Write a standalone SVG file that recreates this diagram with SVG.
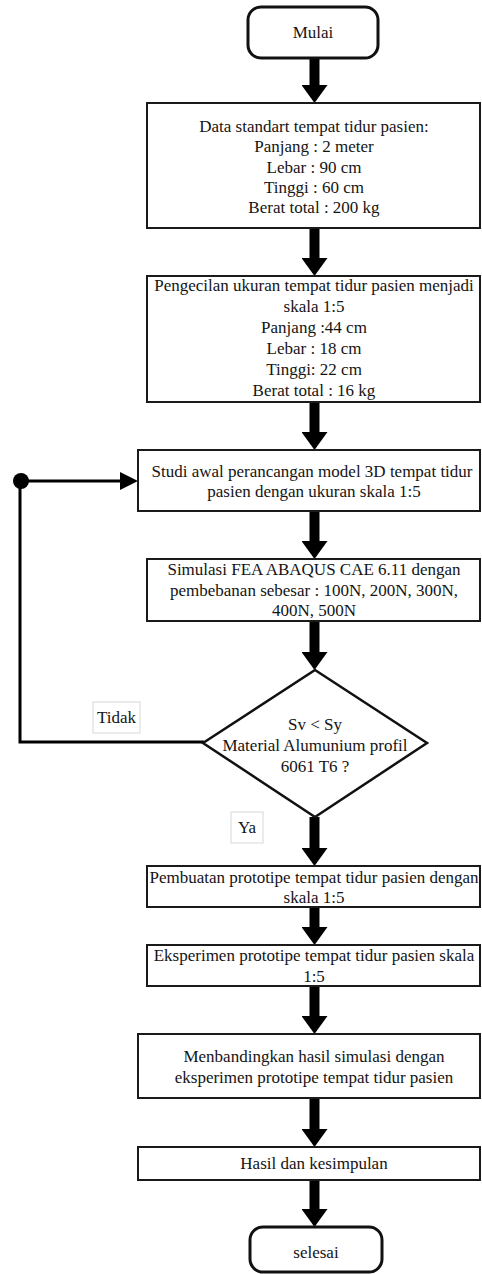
<svg xmlns="http://www.w3.org/2000/svg" width="482" height="1274" viewBox="0 0 482 1274">
<defs>
<style>
.bg{fill:#ffffff}
.box{fill:#ffffff;stroke:#1a1a1a;stroke-width:2}
.term{fill:#ffffff;stroke:#111111;stroke-width:3}
.dec{fill:#ffffff;stroke:#111111;stroke-width:2.5}
.lbl{fill:#ffffff;stroke:#d8d8d8;stroke-width:1}
.t{font-family:"Liberation Serif","Times New Roman",serif;font-size:17px;fill:#141414;text-anchor:middle}
.flow{stroke:#000000;stroke-width:10;fill:none}
.loop{stroke:#000000;stroke-width:3;fill:none}
</style>
<marker id="big" viewBox="0 -13 18 26" markerWidth="18" markerHeight="26" refX="0" refY="0" orient="auto" markerUnits="userSpaceOnUse">
<path d="M0,-13 L18,0 L0,13 z" fill="#000000"/>
</marker>
<marker id="small" viewBox="0 -9 18 18" markerWidth="18" markerHeight="18" refX="0" refY="0" orient="auto" markerUnits="userSpaceOnUse">
<path d="M0,-9 L18,0 L0,9 z" fill="#000000"/>
</marker>
</defs>
<rect class="bg" x="0" y="0" width="482" height="1274"/>
<g id="connectors">
<line class="flow" x1="314.5" y1="58" x2="314.5" y2="85" marker-end="url(#big)"/>
<line class="flow" x1="314.5" y1="228" x2="314.5" y2="258" marker-end="url(#big)"/>
<line class="flow" x1="314.5" y1="402" x2="314.5" y2="432" marker-end="url(#big)"/>
<line class="flow" x1="314.5" y1="511" x2="314.5" y2="541" marker-end="url(#big)"/>
<line class="flow" x1="314.5" y1="621" x2="314.5" y2="652" marker-end="url(#big)"/>
<line class="flow" x1="314.5" y1="817" x2="314.5" y2="848" marker-end="url(#big)"/>
<line class="flow" x1="314.5" y1="907" x2="314.5" y2="927" marker-end="url(#big)"/>
<line class="flow" x1="314.5" y1="986" x2="314.5" y2="1016" marker-end="url(#big)"/>
<line class="flow" x1="314.5" y1="1098" x2="314.5" y2="1129" marker-end="url(#big)"/>
<line class="flow" x1="314.5" y1="1180" x2="314.5" y2="1209" marker-end="url(#big)"/>
<polyline class="loop" points="204,742 20,742 20,481 120,481" marker-end="url(#small)"/>
<circle cx="21" cy="481" r="8" fill="#000000"/>
</g>
<g id="mulai">
<rect class="term" x="248" y="7" width="130" height="51" rx="13"/>
<text class="t" x="313" y="38">Mulai</text>
</g>
<g id="data-standart">
<rect class="box" x="147" y="103" width="333" height="125"/>
<text class="t" x="314" y="132">Data standart tempat tidur pasien:</text>
<text class="t" x="314" y="152">Panjang : 2 meter</text>
<text class="t" x="314" y="172.5">Lebar : 90 cm</text>
<text class="t" x="314" y="193">Tinggi : 60 cm</text>
<text class="t" x="314" y="213">Berat total : 200 kg</text>
</g>
<g id="pengecilan">
<rect class="box" x="147" y="276" width="333" height="126"/>
<text class="t" x="314" y="291">Pengecilan ukuran tempat tidur pasien menjadi</text>
<text class="t" x="314" y="312">skala 1:5</text>
<text class="t" x="314" y="333">Panjang :44 cm</text>
<text class="t" x="314" y="354">Lebar : 18 cm</text>
<text class="t" x="314" y="375">Tinggi: 22 cm</text>
<text class="t" x="314" y="396">Berat total : 16 kg</text>
</g>
<g id="studi">
<rect class="box" x="138" y="450" width="342" height="61"/>
<text class="t" x="312" y="477">Studi awal perancangan model 3D tempat tidur</text>
<text class="t" x="314" y="497">pasien dengan ukuran skala 1:5</text>
</g>
<g id="simulasi">
<rect class="box" x="147" y="559" width="333" height="62"/>
<text class="t" x="314" y="575">Simulasi FEA ABAQUS CAE 6.11 dengan</text>
<text class="t" x="314" y="596">pembebanan sebesar : 100N, 200N, 300N,</text>
<text class="t" x="314" y="616">400N, 500N</text>
</g>
<g id="keputusan">
<polygon class="dec" points="315,670 427,743 315,817 203,743"/>
<text class="t" x="315" y="730">Sv &lt; Sy</text>
<text class="t" x="315" y="751">Material Alumunium profil</text>
<text class="t" x="315" y="772">6061 T6 ?</text>
</g>
<g id="label-tidak">
<rect class="lbl" x="93" y="702" width="47" height="31"/>
<text class="t" x="116.5" y="723">Tidak</text>
</g>
<g id="label-ya">
<rect class="lbl" x="231" y="812" width="32" height="31"/>
<text class="t" x="247" y="833">Ya</text>
</g>
<g id="pembuatan">
<rect class="box" x="147" y="866" width="333" height="41"/>
<text class="t" x="314" y="883">Pembuatan prototipe tempat tidur pasien dengan</text>
<text class="t" x="314" y="903">skala 1:5</text>
</g>
<g id="eksperimen">
<rect class="box" x="147" y="945" width="333" height="41"/>
<text class="t" x="314" y="961">Eksperimen prototipe tempat tidur pasien skala</text>
<text class="t" x="314" y="982">1:5</text>
</g>
<g id="membandingkan">
<rect class="box" x="138" y="1034" width="342" height="64"/>
<text class="t" x="314" y="1062">Menbandingkan hasil simulasi dengan</text>
<text class="t" x="314" y="1083">eksperimen prototipe tempat tidur pasien</text>
</g>
<g id="hasil">
<rect class="box" x="138" y="1147" width="342" height="33"/>
<text class="t" x="314" y="1169">Hasil dan kesimpulan</text>
</g>
<g id="selesai">
<rect class="term" x="250" y="1227" width="132" height="45" rx="13"/>
<text class="t" x="316" y="1258">selesai</text>
</g>
</svg>
